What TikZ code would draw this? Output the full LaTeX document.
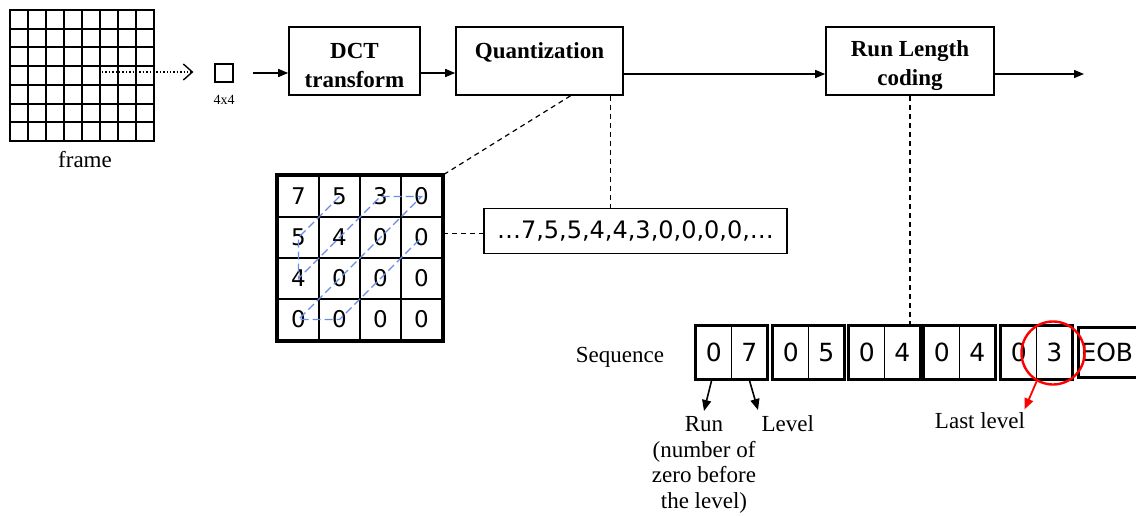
\documentclass[tikz,border=0pt]{standalone}
\usepackage{fontspec}
\setmainfont{Liberation Serif}
\newfontfamily\digitfont{DejaVu Sans}
\usetikzlibrary{arrows.meta}
\definecolor{scanblue}{RGB}{105,140,235}
\newcommand{\toprule}{\rule{0pt}{25pt}}
\begin{document}
\begin{tikzpicture}[x=1pt,y=-1pt,
  txt/.style={font=\fontsize{23}{28}\selectfont},
  proc/.style={draw, line width=1.6pt, minimum height=68pt, align=center,
    font=\fontsize{23}{29}\selectfont\bfseries},
  arr/.style={line width=1.4pt, -{Triangle[length=10pt,width=8pt]}},
  parr/.style={line width=1.6pt, -{Triangle[length=11pt,width=9pt]}},
  gridline/.style={line width=1.9pt},
  dline/.style={line width=1.2pt, dash pattern=on 5pt off 4pt},
  cell/.style={draw, line width=2pt, minimum size=41pt, inner sep=0pt,
    font=\digitfont\fontsize{23}{26}\selectfont},
  pcell/.style={draw, line width=1.5pt, minimum width=35.5pt, minimum height=53pt,
    inner sep=0pt, font=\digitfont\fontsize{25}{28}\selectfont},
  zig/.style={draw=scanblue, line width=1.3pt, dash pattern=on 8pt off 4pt}]
\useasboundingbox (0,0) rectangle (1136,515);

% 8x7 block grid of the frame
\foreach \i in {0,...,8}
  \draw[gridline] ({10+18*\i},10) -- ({10+18*\i},141);
\foreach \j in {0,...,7}
  \draw[gridline] (9,{10+131/7*\j}) -- (155,{10+131/7*\j});
\node[txt] (framelbl) at (85,160) {frame};

% one 4x4 block taken from the frame
\coordinate (scanstart) at (102,72);
\node[draw, line width=1.2pt, minimum size=18pt, inner sep=0pt] (blk) at (224,73) {};
\node[font=\fontsize{14}{16}\selectfont] (blksize) at (224,100) {4x4};
\draw[dotted, line width=1.4pt, shorten >=21pt, -{Straight Barb[length=9pt,width=16pt]}]
  (scanstart) -- (scanstart -| blk.west);

% processing chain
\node[proc, minimum width=131pt] (dct) at (354.5,61) {\toprule DCT\\transform};
\node[proc, minimum width=167pt] (quant) at (539.5,61) {\toprule Quantization\\\phantom{transform}};
\node[proc, minimum width=168pt] (rlc) at (910,61) {\toprule Run Length\\coding};
\coordinate (out) at (1084,74);

\draw[arr] ([xshift=19pt]blk.east) -- (blk.east -| dct.west);
\draw[arr] ([yshift=-12pt]dct.east) -- ([yshift=-12pt]dct.east -| quant.west);
\draw[arr] ([yshift=-13pt]quant.east) -- ([yshift=-13pt]quant.east -| rlc.west);
\draw[arr] (rlc.east |- out) -- (out);

% quantized coefficients
\foreach \r/\row in {1/{7,5,3,0},2/{5,4,0,0},3/{4,0,0,0},4/{0,0,0,0}}{
  \foreach \v [count=\c] in \row {
    \node[cell] (m\r\c) at ({278+41*(\c-0.5)},{176+41*(\r-0.5)}) {\v};
  }
}
\draw[line width=4.5pt] (m11.north west) rectangle (m44.south east);

% zigzag scan order
\draw[zig] (m12.center) -- (m21.center) -- (m31.center) -- (m22.center)
  -- (m13.center) -- (m14.center) -- (m23.center) -- (m32.center)
  -- (m41.center) -- (m42.center) -- (m33.center) -- (m24.center);

% scanned sequence
\node[draw, line width=1.3pt, minimum width=303pt, minimum height=45pt,
  font=\digitfont\fontsize{24}{28}\selectfont] (seq) at (635.5,231)
  {…7,5,5,4,4,3,0,0,0,0,…};

\draw[dline] ([xshift=31pt]quant.south) -- (m14.north east);
\draw[dline] ([xshift=71pt]quant.south) -- ([xshift=71pt]quant.south |- seq.north);
\draw[dline] ([yshift=4pt]m24.east) -- ([yshift=4pt]m24.east -| seq.west);

% run/level pairs
\node[txt] (seqlbl) at (620,357) {Sequence};
\foreach \i/\L/\a/\b in {1/696/0/7, 2/773/0/5, 3/849/0/4, 4/924/0/4, 5/1001/0/3}{
  \node[pcell] (p\i-a) at ({\L+17.75},352.5) {\a};
  \node[pcell] (p\i-b) at ({\L+53.25},352.5) {\b};
  \draw[line width=3pt] (p\i-a.north west) rectangle (p\i-b.south east);
}
\node[draw, line width=3pt, anchor=west, minimum height=50pt, text width=72pt,
  align=left, inner xsep=2pt, font=\digitfont\fontsize{25}{28}\selectfont]
  (eob) at (1077,352) {EOB};

\draw[dline] (rlc.south) -- (rlc.south |- p3-a.north);

% labels of the first pair
\node[anchor=north, align=center, font=\fontsize{23}{25.5}\selectfont] (run) at (704,413)
  {Run\\(number of\\zero before\\the level)};
\node[txt, anchor=north west] (lev) at (758,412) {Level};
\draw[parr] ([xshift=-2pt]p1-a.south) -- ([yshift=2pt]run.north);
\draw[parr] (p1-b.south) -- ([yshift=2pt]lev.north west);

% last level highlight
\node[draw=red, circle, line width=2.4pt, minimum size=63pt, inner sep=0pt] (hl) at (1053,353) {};
\node[txt] (last) at (980,421) {Last level};
\draw[red, line width=1.8pt, -{Triangle[length=11pt,width=9pt]}] (hl.240) -- ([xshift=-4pt]last.north east);
\end{tikzpicture}
\end{document}
